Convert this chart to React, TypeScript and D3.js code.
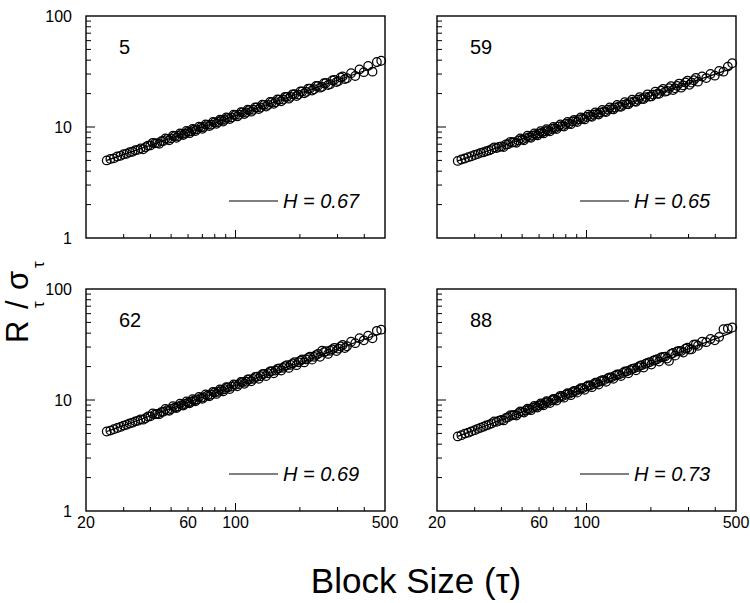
import React from "react";
import * as d3 from "d3";

// block sizes (tau), shared by all four panels
const blockSizes = [
  25, 26, 27, 28, 29, 30, 31, 32, 33, 34,
  35, 36, 38, 39, 40, 42, 43, 45, 46, 48,
  50, 52, 54, 56, 58, 60, 62, 64, 66, 69,
  71, 74, 77, 80, 83, 86, 89, 92, 96, 100,
  104, 108, 112, 116, 121, 126, 131, 136, 142, 148,
  154, 160, 167, 174, 181, 189, 197, 205, 214, 223,
  233, 243, 254, 265, 277, 290, 303, 317, 332, 347,
  363, 380, 398, 417, 437, 458, 480,
];

// intermediate block sizes (the dense middle of the band)
const blockSizesB = [
  37, 41, 44, 47, 49, 51, 53, 55, 57, 59,
  61, 63, 65, 67.5, 70, 72.5, 75.5, 78.5, 81.5, 84.5,
  87.5, 90.5, 94, 98, 102, 106, 110, 114, 118.5, 123.5,
  128.5, 133.5, 139, 145, 151, 157, 163.5, 170.5, 177.5, 185,
  193, 201, 209.5, 218.5, 228, 238, 248.5, 259.5, 271, 283.5,
  296.5, 310, 324.5,
];

const rs5 = [
  5.0, 5.15, 5.22, 5.42, 5.5, 5.68, 5.74, 5.93, 5.98, 6.18,
  6.22, 6.42, 6.58, 6.8, 6.82, 7.12, 7.15, 7.45, 7.48, 7.8,
  7.9, 8.25, 8.3, 8.65, 8.72, 9.05, 9.12, 9.45, 9.52, 9.95,
  10.0, 10.45, 10.5, 11.0, 11.1, 11.55, 11.6, 12.1, 12.2, 12.8,
  12.9, 13.5, 13.5, 14.2, 14.3, 15.0, 15.0, 15.8, 15.8, 16.7,
  16.7, 17.6, 17.7, 18.7, 18.7, 19.8, 19.6, 20.9, 20.7, 22.2,
  21.9, 23.5, 23.0, 25.0, 24.3, 26.6, 25.9, 28.5, 27.5, 30.5,
  28.8, 33.0, 31.2, 35.5, 31.5, 38.5, 39.5,
];
const rs5B = [
  6.3, 7.2, 7.05, 7.9, 7.6, 8.35, 8.0, 8.75, 8.45, 9.2,
  8.8, 9.6, 9.2, 10.05, 9.65, 10.55, 10.2, 11.1, 10.7, 11.65,
  11.2, 12.2, 11.8, 12.9, 12.45, 13.6, 13.1, 14.3, 13.75, 15.0,
  14.5, 15.9, 15.3, 16.8, 16.2, 17.7, 17.05, 18.7, 18.0, 19.7,
  19.0, 20.9, 20.1, 22.1, 21.3, 23.4, 22.6, 24.8, 23.9, 26.3,
  25.4, 27.9, 27.0,
];

const rs59 = [
  4.95, 5.1, 5.2, 5.35, 5.45, 5.6, 5.7, 5.85, 5.92, 6.05,
  6.15, 6.3, 6.45, 6.6, 6.68, 6.95, 7.0, 7.25, 7.3, 7.55,
  7.7, 7.95, 8.1, 8.35, 8.5, 8.75, 8.9, 9.15, 9.3, 9.6,
  9.75, 10.1, 10.2, 10.65, 10.75, 11.2, 11.3, 11.7, 11.9, 12.3,
  12.5, 12.9, 13.1, 13.5, 13.8, 14.3, 14.5, 15.0, 15.3, 15.8,
  16.1, 16.7, 17.0, 17.6, 17.9, 18.6, 18.8, 19.6, 19.9, 21.2,
  20.8, 22.4, 21.5, 23.5, 22.6, 25.2, 24.0, 26.4, 25.6, 28.5,
  27.6, 30.0, 29.0, 32.0, 31.5, 35.0, 37.5,
];
const rs59B = [
  6.55, 6.6, 7.35, 7.2, 7.9, 7.6, 8.35, 8.0, 8.75, 8.4,
  9.15, 8.75, 9.55, 9.15, 10.0, 9.6, 10.55, 10.1, 11.1, 10.6,
  11.6, 11.1, 12.2, 11.7, 12.9, 12.35, 13.55, 12.95, 14.25, 13.65,
  15.0, 14.4, 15.8, 15.2, 16.7, 16.0, 17.6, 16.9, 18.6, 17.85,
  19.7, 18.85, 20.8, 19.9, 22.0, 21.1, 23.3, 22.3, 24.6, 23.7,
  26.1, 25.1, 27.7,
];

const rs62 = [
  5.2, 5.3, 5.45, 5.6, 5.72, 5.88, 5.98, 6.15, 6.25, 6.42,
  6.5, 6.7, 6.85, 7.1, 7.12, 7.42, 7.5, 7.78, 7.85, 8.1,
  8.3, 8.55, 8.75, 9.0, 9.2, 9.45, 9.65, 9.9, 10.1, 10.45,
  10.6, 11.0, 11.2, 11.7, 11.85, 12.3, 12.5, 12.95, 13.2, 13.7,
  13.9, 14.5, 14.6, 15.3, 15.5, 16.2, 16.4, 17.2, 17.4, 18.2,
  18.4, 19.3, 19.5, 20.6, 20.7, 21.9, 21.9, 23.2, 23.2, 24.6,
  24.5, 26.0, 27.8, 27.5, 27.8, 29.5, 29.0, 31.3, 30.5, 33.5,
  32.5, 36.0, 34.5, 38.0, 36.0, 42.0, 43.0,
];
const rs62B = [
  6.65, 7.55, 7.45, 8.3, 8.0, 8.8, 8.45, 9.25, 8.9, 9.7,
  9.35, 10.15, 9.75, 10.65, 10.25, 11.2, 10.8, 11.85, 11.35, 12.45,
  11.95, 13.05, 12.55, 13.8, 13.3, 14.55, 14.0, 15.3, 14.75, 16.15,
  15.55, 17.05, 16.45, 18.05, 17.4, 19.05, 18.4, 20.2, 19.45, 21.35,
  20.6, 22.6, 21.8, 23.95, 23.1, 25.4, 24.5, 26.9, 26.0, 28.6,
  27.6, 30.4, 29.4,
];

const rs88 = [
  4.7, 4.82, 4.98, 5.08, 5.22, 5.35, 5.5, 5.62, 5.75, 5.9,
  6.0, 6.15, 6.35, 6.5, 6.62, 6.9, 7.0, 7.28, 7.35, 7.6,
  7.8, 8.05, 8.25, 8.5, 8.7, 8.95, 9.15, 9.4, 9.6, 9.95,
  10.15, 10.5, 10.8, 11.15, 11.4, 11.75, 12.05, 12.4, 12.75, 13.2,
  13.5, 13.9, 14.3, 14.75, 15.1, 15.7, 16.0, 16.6, 17.0, 17.5,
  18.1, 18.6, 19.3, 19.8, 20.6, 21.2, 21.9, 22.6, 23.3, 24.2,
  24.6, 22.5, 26.5, 27.4, 27.6, 29.0, 28.5, 31.5, 30.8, 33.5,
  33.2, 35.5, 34.5, 37.0, 43.5, 44.0, 45.0,
];
const rs88B = [
  6.4, 6.55, 7.3, 7.25, 7.9, 7.7, 8.35, 8.1, 8.85, 8.55,
  9.3, 8.95, 9.75, 9.4, 10.25, 9.9, 10.9, 10.5, 11.5, 11.05,
  12.1, 11.65, 12.75, 12.35, 13.55, 13.05, 14.3, 13.8, 15.1, 14.6,
  16.0, 15.5, 17.0, 16.45, 18.05, 17.4, 19.1, 18.5, 20.3, 19.6,
  21.6, 20.85, 22.95, 22.2, 24.4, 23.6, 26.0, 25.1, 27.7, 26.8,
  29.6, 28.6, 31.6,
];

const panelNames = ["5", "59", "62", "88"];
const panelSeries = [rs5, rs59, rs62, rs88];
const panelSeriesB = [rs5B, rs59B, rs62B, rs88B];
const hurst = [0.67, 0.65, 0.69, 0.73];
const fitAt25 = [5.0, 4.95, 5.2, 4.7];
const fitRange = [25, 480];

const xTickLabels = [20, 60, 100, 500];
const yTickLabels = [1, 10, 100];

const FONT = "'Liberation Sans', Arial, Helvetica, sans-serif";
const PW = 299;
const PH = 222;
const lefts = [86, 437];
const tops = [16, 289];

function Panel({ idx }: { idx: number }) {
  const col = idx % 2;
  const row = Math.floor(idx / 2);
  const left = lefts[col];
  const top = tops[row];
  const x = d3.scaleLog().domain([20, 500]).range([left, left + PW]);
  const y = d3.scaleLog().domain([1, 100]).range([top + PH, top]);
  const H = hurst[idx];
  const c = fitAt25[idx];
  const fit = fitRange.map((t) => [t, c * Math.pow(t / 25, H)] as [number, number]);
  const line = d3
    .line<[number, number]>()
    .x((d) => x(d[0]))
    .y((d) => y(d[1]));

  const points: [number, number][] = [
    ...blockSizes.map((t, i) => [t, panelSeries[idx][i]] as [number, number]),
    ...blockSizesB.map((t, i) => [t, panelSeriesB[idx][i]] as [number, number]),
  ];

  const yMinor: number[] = [];
  [1, 10].forEach((dec) => {
    for (let k = 2; k <= 9; k++) yMinor.push(dec * k);
  });
  const xMinor = [30, 40, 50, 60, 70, 80, 90, 200, 300, 400];
  const bottom = top + PH;

  return (
    <g>
      {yMinor.map((v) => (
        <line key={"ym" + v} x1={left} x2={left + 5} y1={y(v)} y2={y(v)} stroke="#000" strokeWidth={1} />
      ))}
      <line x1={left} x2={left + 9} y1={y(10)} y2={y(10)} stroke="#000" strokeWidth={1} />
      {xMinor.map((v) => (
        <line key={"xm" + v} x1={x(v)} x2={x(v)} y1={bottom} y2={bottom - 4} stroke="#000" strokeWidth={1} />
      ))}
      <line x1={x(100)} x2={x(100)} y1={bottom} y2={bottom - 8} stroke="#000" strokeWidth={1} />

      <path d={line(fit) || ""} fill="none" stroke="#000" strokeWidth={1.2} />
      {points.map((p, i) => (
        <circle key={i} cx={x(p[0])} cy={y(p[1])} r={4.3} fill="none" stroke="#000" strokeWidth={1.25} />
      ))}

      <rect x={left} y={top} width={PW} height={PH} fill="none" stroke="#000" strokeWidth={1.4} />

      <text x={left + 33} y={top + 38} fontFamily={FONT} fontSize={20} fill="#000">
        {panelNames[idx]}
      </text>
      <line x1={left + 143} x2={left + 192} y1={top + 185} y2={top + 185} stroke="#000" strokeWidth={1} />
      <text x={left + 197} y={top + 192} fontFamily={FONT} fontSize={20} fontStyle="italic" fill="#000">
        {`H = ${H.toFixed(2)}`}
      </text>

      {col === 0 &&
        yTickLabels.map((v) => (
          <text
            key={"yl" + v}
            x={left - 14}
            y={y(v)}
            dy="0.36em"
            textAnchor="end"
            fontFamily={FONT}
            fontSize={16}
            fill="#000"
          >
            {v}
          </text>
        ))}
      {row === 1 &&
        xTickLabels.map((v) => (
          <text
            key={"xl" + v}
            x={x(v)}
            y={bottom + 17}
            textAnchor="middle"
            fontFamily={FONT}
            fontSize={16}
            fill="#000"
          >
            {v}
          </text>
        ))}
    </g>
  );
}

export default function App() {
  return (
    <svg
      width={750}
      height={603}
      style={{ position: "absolute", left: 0, top: 0, display: "block", background: "#fff" }}
    >
      {[0, 1, 2, 3].map((i) => (
        <Panel key={i} idx={i} />
      ))}
      <g transform="translate(28, 343) rotate(-90)" fontFamily={FONT} fill="#000">
        <text x={0} y={0} fontSize={31}>R</text>
        <text x={35} y={16} fontSize={17}>τ</text>
        <text x={34} y={0} fontSize={31}>/</text>
        <text x={53} y={0} fontSize={31}>σ</text>
        <text x={75} y={16} fontSize={17}>τ</text>
      </g>
      <text x={416} y={593} textAnchor="middle" fontFamily={FONT} fontSize={35} fill="#000">
        Block Size (τ)
      </text>
    </svg>
  );
}
